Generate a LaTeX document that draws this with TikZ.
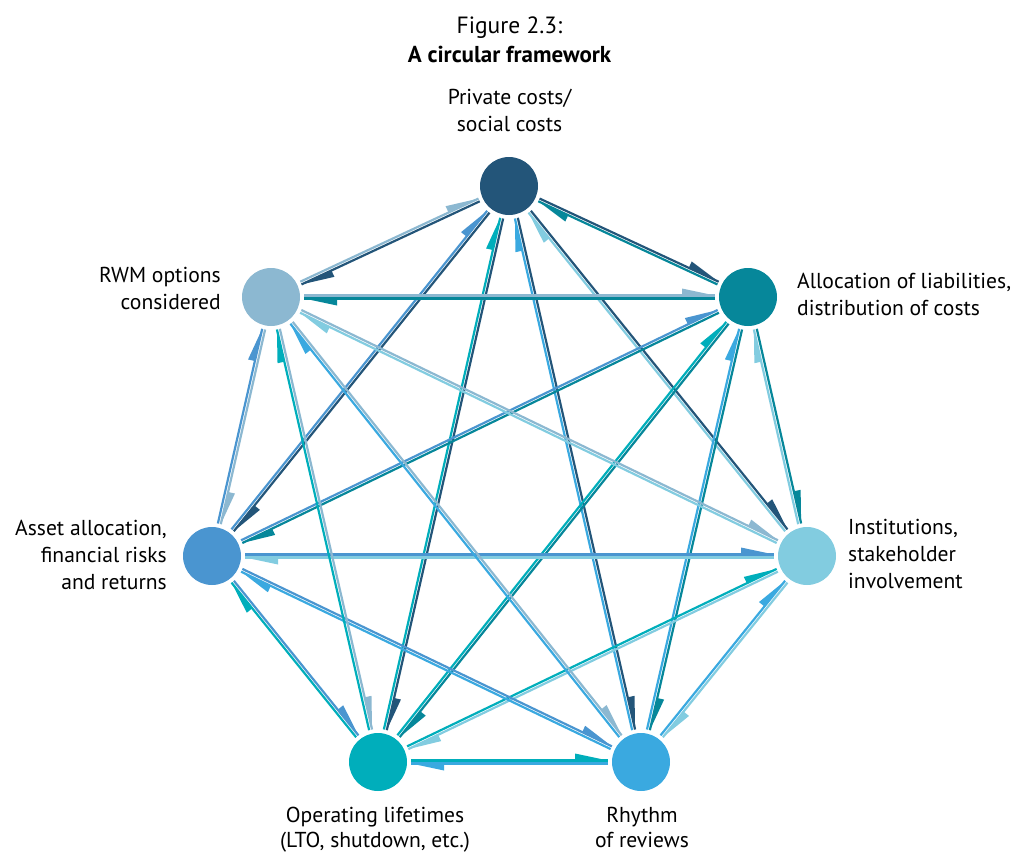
\documentclass[tikz,border=0pt]{standalone}
\usepackage{fontspec}
\setmainfont{PT Sans}
\usetikzlibrary{calc}
\definecolor{cP}{RGB}{35,85,121}
\definecolor{cA}{RGB}{6,135,154}
\definecolor{cI}{RGB}{130,204,224}
\definecolor{cR}{RGB}{58,169,224}
\definecolor{cO}{RGB}{0,174,187}
\definecolor{cS}{RGB}{74,149,208}
\definecolor{cW}{RGB}{140,184,209}
\newcommand\mylink[2]{%
  \coordinate (s) at ($ ($(#1)!33pt!(#2)$) !1.5pt!90:(#2) $);
  \coordinate (e) at ($ ($(#2)!33pt!(#1)$) !1.5pt!-90:(#1) $);
  \coordinate (b) at ($(e)!33pt!(s)$);
  \coordinate (t) at ($(b)!7pt!90:(e)$);
  \draw[conn, draw=c#1] (s) -- (e);
  \fill[fill=c#1] (e) -- (b) -- (t) -- cycle;
}
\begin{document}
\begin{tikzpicture}[x=1pt,y=-1pt,
  hub/.style={circle, minimum size=58pt, inner sep=0pt},
  conn/.style={line width=2.2pt},
  lbl/.style={font=\fontsize{21.6}{27}\selectfont, inner sep=0pt}]
\useasboundingbox (0,0) rectangle (1013,854);
\node[hub, fill=cP] (P) at (509,186) {};
\node[hub, fill=cA] (A) at (748,297) {};
\node[hub, fill=cI] (I) at (807,556) {};
\node[hub, fill=cR] (R) at (641,762) {};
\node[hub, fill=cO] (O) at (378,762) {};
\node[hub, fill=cS] (S) at (212,556) {};
\node[hub, fill=cW] (W) at (271,297) {};
\foreach \u/\v in {P/A,P/I,P/R,P/O,P/S,P/W,A/I,A/R,A/O,A/S,A/W,I/R,I/O,I/S,I/W,R/O,R/S,R/W,O/S,O/W,S/W}{
  \mylink{\u}{\v}
  \mylink{\v}{\u}
}
\node[lbl, anchor=base, font=\fontsize{23.5}{28}\selectfont] (t1) at (509.5,33) {Figure 2.3:};
\node[lbl, anchor=base, font=\fontsize{23}{28}\selectfont\bfseries] (t2) at (509.5,62) {A circular framework};
\node[lbl, anchor=base, align=center] (lP) at (509.5,131) {Private costs/\\social costs};
\node[lbl, anchor=base west, align=left] (lA) at (797,315) {Allocation of liabilities,\\distribution of costs};
\node[lbl, anchor=base west, align=left] (lI) at (848,588) {Institutions,\\stakeholder\\involvement};
\node[lbl, anchor=base, align=center, font=\fontsize{21.6}{25}\selectfont] (lR) at (642,847) {Rhythm\\of reviews};
\node[lbl, anchor=base, align=center, font=\fontsize{21.6}{25}\selectfont] (lO) at (375,847) {Operating lifetimes\\(LTO, shutdown, etc.)};
\node[lbl, anchor=base east, align=right] (lS) at (167,589) {Asset allocation,\\financial risks\\and returns};
\node[lbl, anchor=base east, align=right] (lW) at (221,309) {RWM options\\considered};
\end{tikzpicture}
\end{document}
